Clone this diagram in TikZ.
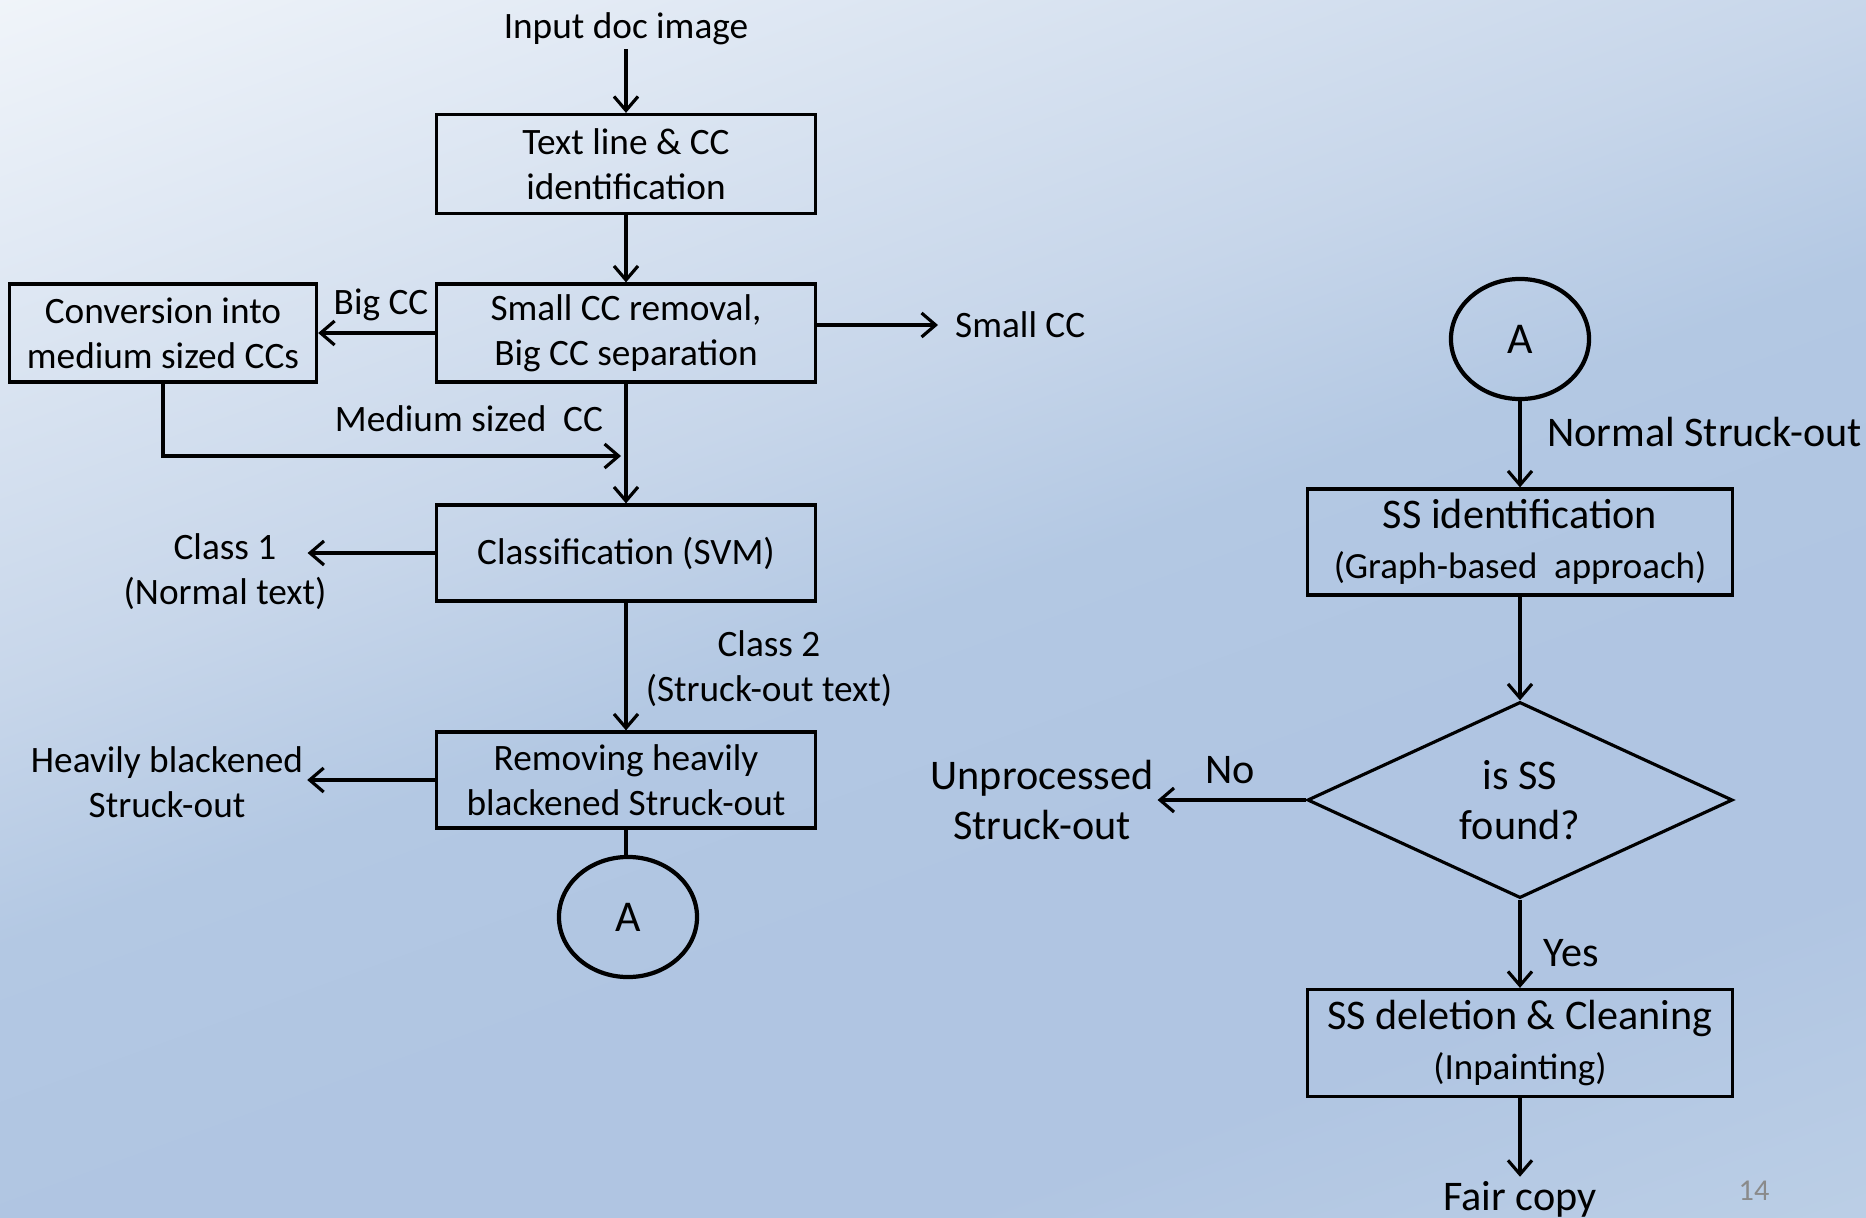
\documentclass[tikz,border=0pt]{standalone}
\usepackage{fontspec}
\setmainfont{Carlito}
\usepackage{xcolor}
\usepackage{tikz}
\usetikzlibrary{arrows.meta,positioning,shapes.geometric}
\definecolor{bgA}{HTML}{F1F5FA}
\definecolor{bgB}{HTML}{C7D6EA}
\definecolor{bgC}{HTML}{B3C8E3}
\definecolor{bgD}{HTML}{B0C5E2}
\definecolor{bgE}{HTML}{BCCFE6}
\definecolor{pagegrey}{HTML}{8A8A8A}
\pgfdeclarehorizontalshading{slidebg}{100bp}{color(0bp)=(bgA); color(31bp)=(bgA); color(45bp)=(bgB); color(50bp)=(bgC); color(56bp)=(bgD); color(62bp)=(bgD); color(69bp)=(bgE); color(100bp)=(bgE)}
\newcommand\leftsz{\fontsize{10.6}{12.8}\selectfont}
\newcommand\rightsz{\fontsize{12}{14.2}\selectfont}
\newcommand\subsz{\fontsize{10.5}{12.5}\selectfont}
\newcommand\connsz{\fontsize{12.5}{15}\selectfont}

\begin{document}
\begin{tikzpicture}[x=0.01cm, y=-0.01cm,
  box/.style={draw, line width=0.9pt, align=center, inner sep=0pt, minimum width=3.78cm, font=\leftsz},
  rbox/.style={draw, line width=0.9pt, align=center, inner sep=0pt, minimum width=4.25cm, font=\rightsz},
  lbl/.style={align=center, inner sep=1pt, font=\leftsz},
  rlbl/.style={align=center, inner sep=1pt, font=\rightsz},
  conn/.style={draw, ellipse, line width=1.2pt, minimum width=1.38cm, minimum height=1.2cm, inner sep=0pt, font=\connsz},
  decision/.style={draw, diamond, line width=0.9pt, aspect=2.17, minimum width=4.25cm, minimum height=1.96cm, inner sep=0pt, align=center, font=\rightsz},
  flow/.style={line width=0.9pt, -{Straight Barb[length=1.4mm,width=2.4mm]}},
  link/.style={line width=0.9pt}]
\useasboundingbox (0,0) rectangle (1866,1218);
\begin{scope}
\clip (0,0) rectangle (1866,1218);
\shade[shading=slidebg, shading angle=-70] (-267,-591) rectangle (2133,1809);
\end{scope}

\node[lbl] (input) at (626,29) {Input doc image};
\node[box, minimum height=0.99cm] (tlcc) at (626,164) {Text line \& CC\\identification};
\node[box, minimum height=0.98cm] (sep) at (626,333) {Small CC removal,\\Big CC separation};
\node[box, minimum width=3.07cm, minimum height=0.98cm] (conv) at (163,333) {Conversion into\\medium sized CCs};
\node[lbl] (bigcc) at (381,305) {Big CC};
\node[lbl, anchor=west] (smallcc) at (951,325) {Small CC};
\node[lbl] (medium) at (469,419) {Medium sized~ CC};
\coordinate (merge) at (621,456);
\node[box, minimum height=0.96cm] (cls) at (626,553) {Classification (SVM)};
\node[lbl] (class1) at (225,572) {Class 1\\(Normal text)};
\node[lbl] (class2) at (769,669) {Class 2\\(Struck-out text)};
\node[box, minimum height=0.96cm] (rem) at (626,780) {Removing heavily\\blackened Struck-out};
\node[lbl] (heavy) at (167,782) {Heavily blackened\\Struck-out};
\node[conn] (conA) at (628,917) {A};

\node[conn] (conB) at (1520,339) {A};
\node[rlbl, anchor=west] (normal) at (1543,432) {Normal Struck-out};
\node[rbox, minimum height=1.06cm] (ssid) at (1520,542) {SS identification\\{\subsz (Graph-based~ approach)}};
\node[decision] (found) at (1520,800) {is SS\\found?};
\node[rlbl] (unproc) at (1042,800) {Unprocessed\\Struck-out};
\node[rlbl] (no) at (1230,770) {No};
\node[rlbl] (yes) at (1571,953) {Yes};
\node[rbox, minimum height=1.07cm] (ssdel) at (1520,1043) {SS deletion \& Cleaning\\{\subsz (Inpainting)}};
\node[rlbl, anchor=base] (fair) at (1520,1210) {Fair copy};
\node[text=pagegrey, font=\fontsize{8.6}{10}\selectfont] (pnum) at (1754,1191) {14};

\draw[flow] (input) -- (tlcc);
\draw[flow] (tlcc) -- (sep);
\draw[flow] (sep.west) -- (conv.east);
\draw[flow, shorten >=1.3mm] (sep.east |- smallcc) -- (smallcc);
\draw[flow] (conv.south) |- (merge);
\draw[flow] (sep) -- (cls);
\draw[flow, shorten >=-2.3mm] (cls.west) -- (cls.west -| class1.east);
\draw[flow] (cls) -- (rem);
\draw[flow] (rem.west) -- (rem.west -| heavy.east);
\draw[link] (rem) -- (rem |- conA.north);
\draw[flow] (conB) -- (ssid);
\draw[flow] (ssid) -- (found);
\draw[flow] (found.west) -- (found.west -| unproc.east);
\draw[flow] (found) -- (ssdel);
\draw[flow] (ssdel) -- (fair);
\end{tikzpicture}
\end{document}
